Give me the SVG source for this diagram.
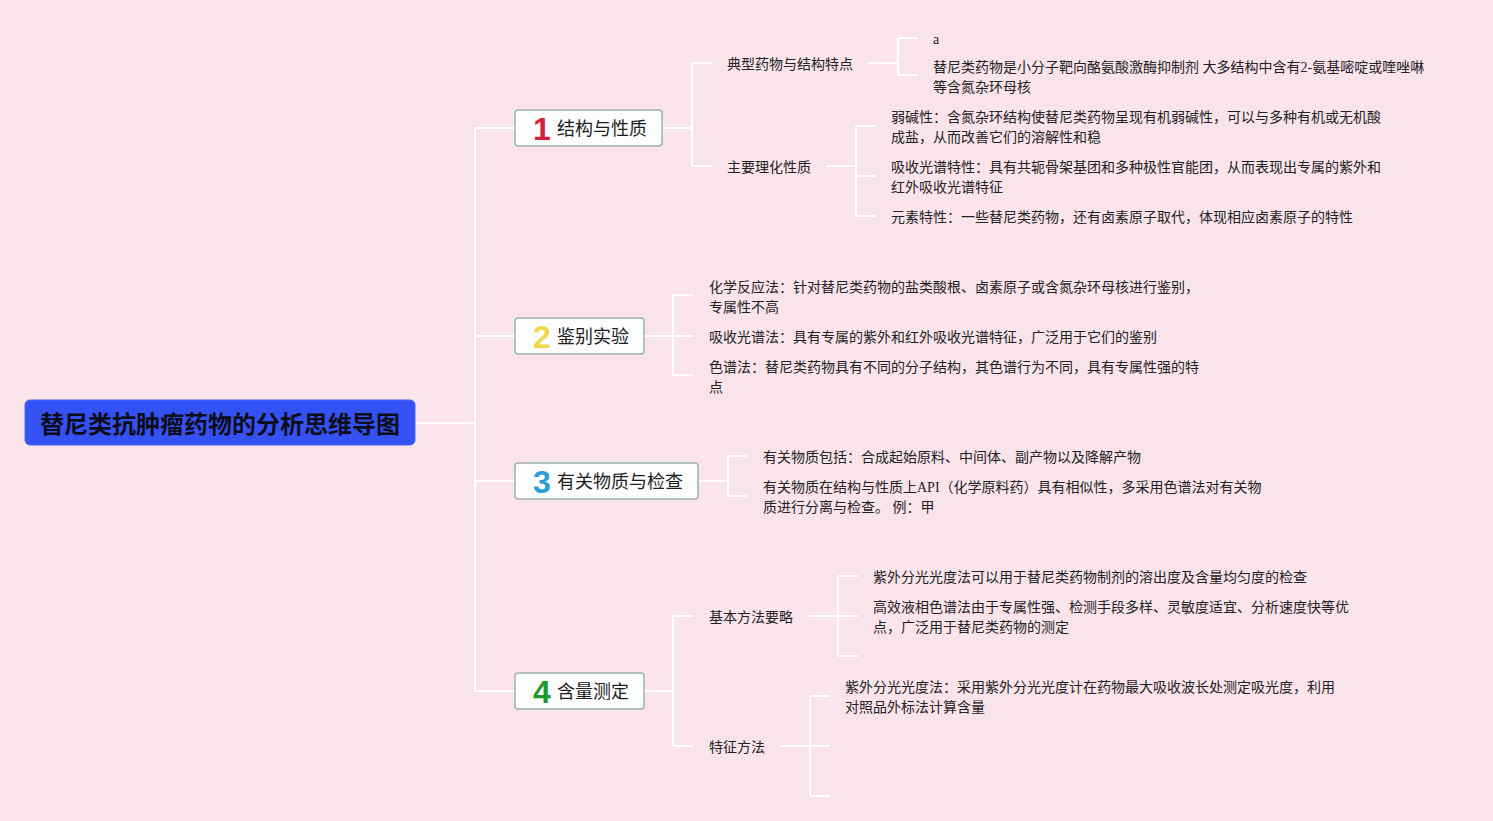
<svg xmlns="http://www.w3.org/2000/svg" width="1493" height="821" viewBox="0 0 1493 821">
<style>
.bg{fill:#f9e4ec}
.ln{fill:none;stroke:#ffffff;stroke-width:2}
.box{fill:#fbfdfd;stroke:#9db3ab;stroke-width:1.5}
.root{fill:#3452f4;stroke:#4a64f5;stroke-width:1}
.rt{font-family:"Noto Sans CJK SC","Liberation Sans",sans-serif;font-size:24px;font-weight:bold;fill:#0d0d1a}
.bl{font-family:"Noto Sans CJK SC","Liberation Sans",sans-serif;font-size:18px;fill:#1e1e1e}
.num{font-family:"Liberation Sans","DejaVu Sans",sans-serif;font-size:32px;font-weight:bold;text-anchor:middle}
.t{font-family:"Liberation Serif","Noto Sans CJK SC",serif;font-size:14px;fill:#222222}
</style>
<rect class="bg" x="0" y="0" width="1493" height="821"/>
<g id="connectors">
<path class="ln" d="M415 423H475M475 128V691M475 128H515M475 336H515M475 481H515M475 691H515"/>
<path class="ln" d="M662 128H692M692 63V166M692 63H712M692 166H712"/>
<path class="ln" d="M868 63H898M898 38V75M898 38H918M898 75H918"/>
<path class="ln" d="M826 166H856M856 126V216M856 126H876M856 176H876M856 216H876"/>
<path class="ln" d="M644 336H673M673 295V375M673 295H693M673 336H693M673 375H693"/>
<path class="ln" d="M698 481H728M728 456V496M728 456H747M728 496H747"/>
<path class="ln" d="M644 691H673M673 616V746M673 616H693M673 746H693"/>
<path class="ln" d="M808 616H838M838 576V656M838 576H858M838 616H858M838 656H858"/>
<path class="ln" d="M780 746H810M810 696V796M810 696H830M810 746H830M810 796H830"/>
</g>
<g id="root">
<rect class="root" x="25" y="400" width="390" height="45" rx="5"/>
<text class="rt" x="220" y="433" text-anchor="middle">替尼类抗肿瘤药物的分析思维导图</text>
</g>
<g id="n1">
<rect class="box" x="515" y="110" width="147" height="36" rx="3"/>
<text class="num" x="542" y="140" fill="#d41f3c">1</text>
<text class="bl" x="557" y="135">结构与性质</text>
</g>
<g id="n2">
<rect class="box" x="515" y="318" width="129" height="36" rx="3"/>
<text class="num" x="542" y="348" fill="#f0d84c">2</text>
<text class="bl" x="557" y="343">鉴别实验</text>
</g>
<g id="n3">
<rect class="box" x="515" y="463" width="183" height="36" rx="3"/>
<text class="num" x="542" y="493" fill="#2a9ed8">3</text>
<text class="bl" x="557" y="488">有关物质与检查</text>
</g>
<g id="n4">
<rect class="box" x="515" y="673" width="129" height="36" rx="3"/>
<text class="num" x="542" y="703" fill="#1e9a2c">4</text>
<text class="bl" x="557" y="698">含量测定</text>
</g>
<g id="n1a"><text class="t" x="727" y="69">典型药物与结构特点</text></g>
<g id="n1a1"><text class="t" x="933" y="44">a</text></g>
<g id="n1a2"><text class="t" x="933" y="72">替尼类药物是小分子靶向酪氨酸激酶抑制剂 大多结构中含有2-氨基嘧啶或喹唑啉</text><text class="t" x="933" y="92">等含氮杂环母核</text></g>
<g id="n1b"><text class="t" x="727" y="172">主要理化性质</text></g>
<g id="n1b1"><text class="t" x="891" y="122">弱碱性：含氮杂环结构使替尼类药物呈现有机弱碱性，可以与多种有机或无机酸</text><text class="t" x="891" y="142">成盐，从而改善它们的溶解性和稳</text></g>
<g id="n1b2"><text class="t" x="891" y="172">吸收光谱特性：具有共轭骨架基团和多种极性官能团，从而表现出专属的紫外和</text><text class="t" x="891" y="192">红外吸收光谱特征</text></g>
<g id="n1b3"><text class="t" x="891" y="222">元素特性：一些替尼类药物，还有卤素原子取代，体现相应卤素原子的特性</text></g>
<g id="n2a"><text class="t" x="709" y="292">化学反应法：针对替尼类药物的盐类酸根、卤素原子或含氮杂环母核进行鉴别，</text><text class="t" x="709" y="312">专属性不高</text></g>
<g id="n2b"><text class="t" x="709" y="342">吸收光谱法：具有专属的紫外和红外吸收光谱特征，广泛用于它们的鉴别</text></g>
<g id="n2c"><text class="t" x="709" y="372">色谱法：替尼类药物具有不同的分子结构，其色谱行为不同，具有专属性强的特</text><text class="t" x="709" y="392">点</text></g>
<g id="n3a"><text class="t" x="763" y="462">有关物质包括：合成起始原料、中间体、副产物以及降解产物</text></g>
<g id="n3b"><text class="t" x="763" y="492">有关物质在结构与性质上API（化学原料药）具有相似性，多采用色谱法对有关物</text><text class="t" x="763" y="512">质进行分离与检查。 例：甲</text></g>
<g id="n4a"><text class="t" x="709" y="622">基本方法要略</text></g>
<g id="n4a1"><text class="t" x="873" y="582">紫外分光光度法可以用于替尼类药物制剂的溶出度及含量均匀度的检查</text></g>
<g id="n4a2"><text class="t" x="873" y="612">高效液相色谱法由于专属性强、检测手段多样、灵敏度适宜、分析速度快等优</text><text class="t" x="873" y="632">点，广泛用于替尼类药物的测定</text></g>
<g id="n4b"><text class="t" x="709" y="752">特征方法</text></g>
<g id="n4b1"><text class="t" x="845" y="692">紫外分光光度法：采用紫外分光光度计在药物最大吸收波长处测定吸光度，利用</text><text class="t" x="845" y="712">对照品外标法计算含量</text></g>
</svg>
